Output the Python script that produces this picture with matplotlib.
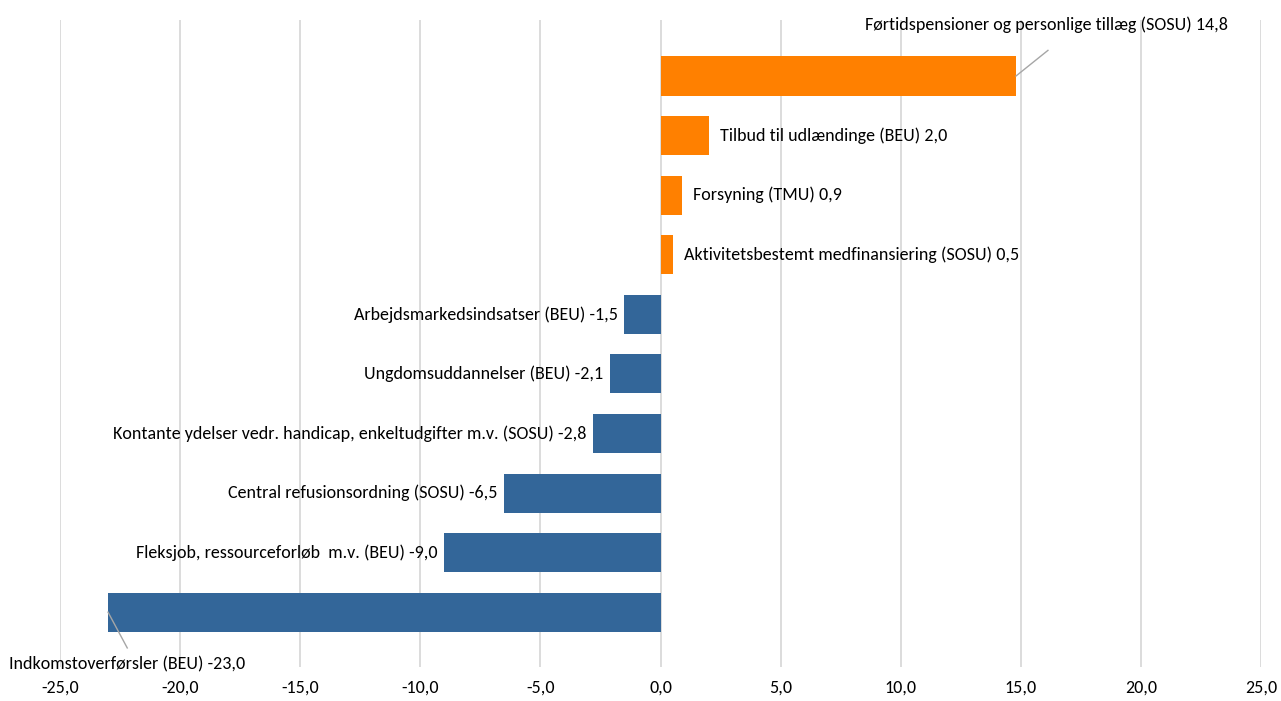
import matplotlib.pyplot as plt
import numpy as np

# categories from bottom to top
names = [
    'Indkomstoverførsler (BEU)',
    'Fleksjob, ressourceforløb  m.v. (BEU)',
    'Central refusionsordning (SOSU)',
    'Kontante ydelser vedr. handicap, enkeltudgifter m.v. (SOSU)',
    'Ungdomsuddannelser (BEU)',
    'Arbejdsmarkedsindsatser (BEU)',
    'Aktivitetsbestemt medfinansiering (SOSU)',
    'Forsyning (TMU)',
    'Tilbud til udlændinge (BEU)',
    'Førtidspensioner og personlige tillæg (SOSU)',
]
values = [-23.0, -9.0, -6.5, -2.8, -2.1, -1.5, 0.5, 0.9, 2.0, 14.8]
xticks = [-25, -20, -15, -10, -5, 0, 5, 10, 15, 20, 25]

plt.rcParams['font.family'] = ['Carlito', 'Liberation Sans Narrow', 'Liberation Sans', 'DejaVu Sans']

fig = plt.figure(figsize=(12.81, 7.01), dpi=100)
ax = fig.add_axes([60/1281, 34/701, 1201/1281, 647/701])

orange, blue = '#FF8000', '#336699'
y = np.arange(len(values))
colors = [orange if v > 0 else blue for v in values]
ax.barh(y, values, height=0.655, color=colors, zorder=2)

def fmt(v):
    return f'{v:.1f}'.replace('.', ',')

fs = 13
for i, (n, v) in enumerate(zip(names, values)):
    lab = f'{n} {fmt(v)}'
    if i == len(values) - 1:
        ax.plot([v, 16.13], [i, i + 0.43], color='#a6a6a6', lw=1, clip_on=False, zorder=3)
        ax.text(16.09, 9.86, lab, ha='center', va='center', fontsize=fs, clip_on=False)
    elif i == 0:
        ax.plot([v, -22.2], [i, i - 0.60], color='#a6a6a6', lw=1, clip_on=False, zorder=3)
        ax.text(-22.21, -0.87, lab, ha='center', va='center', fontsize=fs, clip_on=False)
    elif v > 0:
        ax.annotate(lab, (v, i), xytext=(8, 0), textcoords='offset points',
                    ha='left', va='center', fontsize=fs)
    else:
        ax.annotate(lab, (v, i), xytext=(-5, 0), textcoords='offset points',
                    ha='right', va='center', fontsize=fs)

ax.set_xlim(-25, 25)
ax.set_ylim(-0.92, 9.94)
ax.set_xticks(xticks)
ax.set_xticklabels([fmt(t) for t in xticks], fontsize=fs)
ax.set_yticks([])
ax.tick_params(axis='x', length=0, pad=9)
ax.grid(axis='x', color='#d9d9d9', lw=1.3, zorder=0)
for s in ax.spines.values():
    s.set_visible(False)

fig.savefig('out.png', dpi=100)
